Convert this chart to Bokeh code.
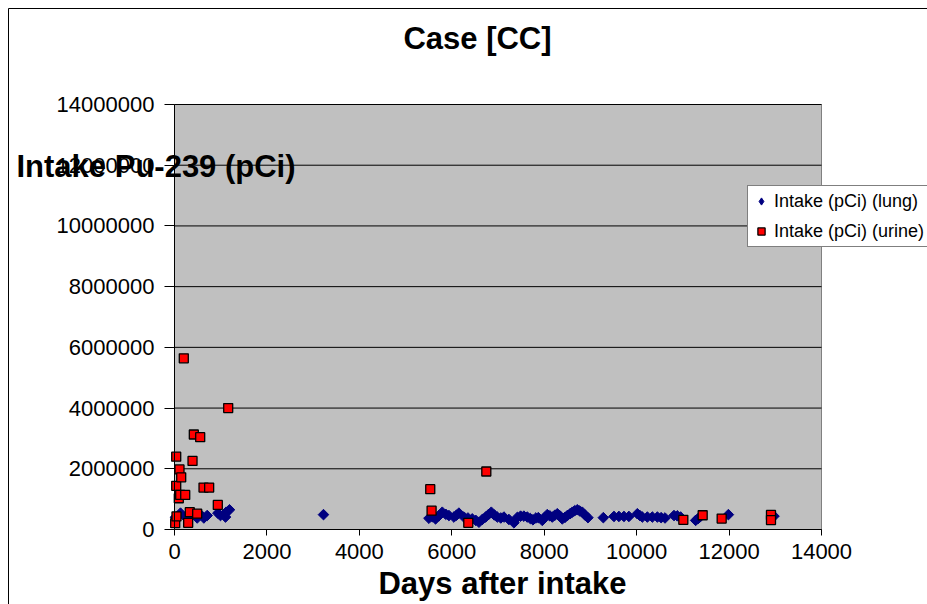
from bokeh.plotting import figure
from bokeh.models import (Range1d, FixedTicker, Label, Legend, LegendItem, BoxAnnotation,
                          LinearAxis, ColumnDataSource, CDSView, IndexFilter)
from bokeh.embed import file_html
from bokeh.resources import INLINE

# ---------------- data ----------------
title_text = "Case [CC]"
x_axis_title = "Days after intake"
y_axis_title = "Intake Pu-239 (pCi)"
lung_label = "Intake (pCi) (lung)"
urine_label = "Intake (pCi) (urine)"

lung_days = [22, 130, 238, 346, 491, 563, 635, 707, 938, 995, 1068, 1104, 1118, 1190,
             3224,
             5505, 5580, 5649, 5720, 5794, 5870, 5938, 6046, 6100, 6154, 6263, 6350,
             6443, 6520, 6588, 6660, 6732, 6800, 6855, 6920, 6984, 7060, 7128, 7236,
             7345, 7420, 7489, 7560, 7634, 7700, 7756, 7820, 7872, 7958, 8010, 8066,
             8120, 8175, 8230, 8283, 8340, 8391, 8450, 8500, 8560, 8608, 8660, 8716,
             8770, 8824, 8880, 8946, 9279, 9509, 9617, 9725, 9833, 10015, 10070, 10123,
             10232, 10340, 10449, 10530, 10614, 10808, 10880, 10952, 11277, 11330,
             11370, 11985, 12972]
lung_pci = [405000, 540000, 410000, 480000, 380000, 490000, 380000, 460000, 540000,
            460000, 490000, 410000, 570000, 650000,
            490000,
            370000, 420000, 350000, 450000, 570000, 500000, 460000, 410000, 470000,
            540000, 410000, 380000, 350000, 300000, 240000, 330000, 410000, 500000,
            570000, 480000, 410000, 380000, 410000, 330000, 220000, 400000, 440000,
            440000, 410000, 360000, 320000, 380000, 390000, 300000, 400000, 490000,
            450000, 410000, 470000, 520000, 450000, 350000, 400000, 460000, 520000,
            570000, 620000, 650000, 610000, 570000, 480000, 390000, 390000, 430000,
            430000, 430000, 430000, 520000, 460000, 410000, 410000, 410000, 410000,
            390000, 380000, 460000, 450000, 410000, 300000, 360000, 410000, 490000,
            440000]

urine_days = [15, 43, 37, 37, 93, 108, 123, 145, 201, 232, 296, 331, 390, 418, 491,
              556, 628, 750, 937, 1162, 5534, 5563, 6357, 6747, 11010, 11429, 11840,
              12907, 12907]
urine_pci = [210000, 430000, 1440000, 2400000, 1030000, 1980000, 1140000, 1720000,
             5640000, 1140000, 220000, 570000, 2260000, 3130000, 520000, 3040000,
             1380000, 1380000, 810000, 4000000, 1330000, 620000, 220000, 1910000,
             320000, 470000, 360000, 480000, 310000]

x_ticks = [0, 2000, 4000, 6000, 8000, 10000, 12000, 14000]
x_tick_labels = ["0", "2000", "4000", "6000", "8000", "10000", "12000", "14000"]
y_ticks = [0, 2000000, 4000000, 6000000, 8000000, 10000000, 12000000, 14000000]
y_tick_labels = ["0", "2000000", "4000000", "6000000", "8000000", "10000000",
                 "12000000", "14000000"]

# ---------------- layout (pixel positions of the plot area on the page) ----------------
W, H = 927, 604
FL, FR, FT, FB = 174, 821, 104, 529
XMIN, XMAX = x_ticks[0], x_ticks[-1]
YMIN, YMAX = y_ticks[0], y_ticks[-1]
FONT = "Liberation Sans"
LUNG_COLOR = "#000080"
URINE_COLOR = "#FF0000"


def dx(px):
    return XMIN + (px - FL) / (FR - FL) * (XMAX - XMIN)


def dy(py):
    return YMIN + (FB - py) / (FB - FT) * (YMAX - YMIN)


# the frame covers the whole page; the plot area is drawn inside it
p = figure(width=W, height=H, output_backend="svg", toolbar_location=None,
           x_axis_location=None, y_axis_location=None,
           x_range=Range1d(dx(0), dx(W)), y_range=Range1d(dy(H), dy(0)),
           min_border=0, min_border_left=0, min_border_right=0,
           min_border_top=0, min_border_bottom=0)
p.background_fill_color = "white"
p.border_fill_color = "white"
p.outline_line_color = None
p.grid.visible = False

# outer chart border (left/top edges visible in the page)
p.add_layout(BoxAnnotation(left=dx(8), right=dx(W + 50), top=dy(8), bottom=dy(H + 50),
                           fill_alpha=0, line_color="black", line_alpha=1, line_width=1,
                           level="underlay"))
# plot area
p.add_layout(BoxAnnotation(left=XMIN, right=XMAX, bottom=YMIN, top=YMAX,
                           fill_color="#C0C0C0", fill_alpha=1,
                           line_color="#808080", line_alpha=1, line_width=1,
                           level="underlay"))

# horizontal gridlines
p.segment(x0=[XMIN] * len(y_ticks), x1=[XMAX] * len(y_ticks), y0=y_ticks, y1=y_ticks,
          line_color="black", line_width=1)

# axes
xaxis = LinearAxis(fixed_location=YMIN, bounds=(XMIN, XMAX),
                   ticker=FixedTicker(ticks=x_ticks))
yaxis = LinearAxis(fixed_location=XMIN, bounds=(YMIN, YMAX),
                   ticker=FixedTicker(ticks=y_ticks))
xaxis.major_label_overrides = {t: l for t, l in zip(x_ticks, x_tick_labels)}
yaxis.major_label_overrides = {t: l for t, l in zip(y_ticks, y_tick_labels)}
for ax in (xaxis, yaxis):
    ax.axis_line_color = "black"
    ax.axis_line_width = 1
    ax.major_tick_line_color = "black"
    ax.minor_tick_line_color = None
    ax.major_tick_in = 0
    ax.major_label_text_font = FONT
    ax.major_label_text_font_size = "22px"
    ax.major_label_text_color = "black"
xaxis.major_tick_out = 6
xaxis.major_label_standoff = 8
yaxis.major_tick_out = 10
yaxis.major_label_standoff = 10
p.add_layout(xaxis, "below")
p.add_layout(yaxis, "left")

lung_src = ColumnDataSource(data=dict(days=lung_days, pci=lung_pci))
urine_src = ColumnDataSource(data=dict(days=urine_days, pci=urine_pci))

# legend swatch for the lung series (legend glyphs ignore marker rotation):
# an upright diamond on the first lung point, hidden under the rotated marker
r_lung_key = p.scatter("days", "pci", source=lung_src,
                       view=CDSView(filter=IndexFilter(indices=[0])),
                       marker="diamond", size=7, fill_color=LUNG_COLOR,
                       line_color=LUNG_COLOR, line_width=1)
r_lung = p.scatter("days", "pci", source=lung_src, marker="square", angle=0.785398,
                   size=7.5, fill_color=LUNG_COLOR, line_color=LUNG_COLOR, line_width=1)
r_urine = p.scatter("days", "pci", source=urine_src, marker="square", size=9,
                    fill_color=URINE_COLOR, line_color="black", line_width=1.3)

legend = Legend(items=[LegendItem(label=lung_label, renderers=[r_lung_key]),
                       LegendItem(label=urine_label, renderers=[r_urine])],
                location=(747, H - 247), orientation="vertical",
                border_line_color="black", border_line_width=1,
                background_fill_color="white", background_fill_alpha=1,
                label_text_font=FONT, label_text_font_size="18px",
                label_text_color="black",
                glyph_width=18, glyph_height=22, label_height=22,
                label_standoff=4, padding=4, spacing=8, margin=0)
p.add_layout(legend)

p.add_layout(Label(x=dx(477), y=dy(38), text=title_text, text_align="center",
                   text_baseline="middle", text_font=FONT, text_font_size="31px",
                   text_font_style="bold", text_color="black"))
p.add_layout(Label(x=dx(502), y=dy(583), text=x_axis_title, text_align="center",
                   text_baseline="middle", text_font=FONT, text_font_size="31px",
                   text_font_style="bold", text_color="black"))
p.add_layout(Label(x=dx(16), y=dy(166), text=y_axis_title, text_align="left",
                   text_baseline="middle", text_font=FONT, text_font_size="31px",
                   text_font_style="bold", text_color="black"))

open("out.html", "w").write(file_html(p, INLINE))
